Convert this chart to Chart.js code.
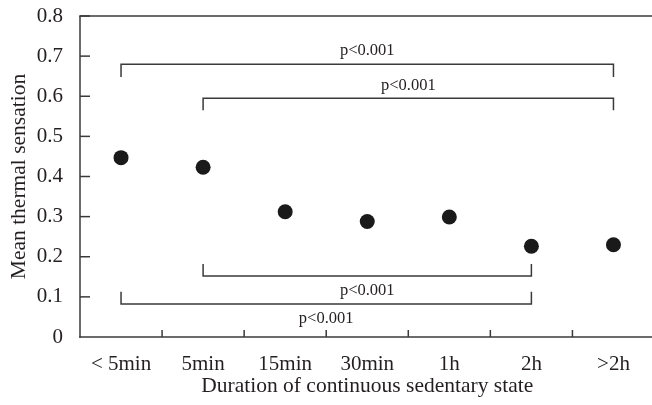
<!DOCTYPE html>
<html><head><meta charset="utf-8">
<script src="https://cdn.jsdelivr.net/npm/chart.js@4"></script>
<style>html,body{margin:0;padding:0;background:#fff;overflow:hidden}
#wrap{width:662px;height:405px;position:relative}</style>
</head><body><div id="wrap"><canvas id="c"></canvas></div>
<script>
// ---- data ----
const categories = ['< 5min', '5min', '15min', '30min', '1h', '2h', '>2h'];
const meanThermalSensation = [0.447, 0.423, 0.312, 0.288, 0.299, 0.226, 0.230];
const yTickValues = [0, 0.1, 0.2, 0.3, 0.4, 0.5, 0.6, 0.7, 0.8];
const bracketFrom = [0, 1, 1, 0];
const bracketTo = [6, 6, 5, 5];
const bracketLevel = [0.68, 0.595, 0.152, 0.082];
const bracketTickEnd = [0.648, 0.565, 0.182, 0.113];
const bracketLabels = ['p<0.001', 'p<0.001', 'p<0.001', 'p<0.001'];
const yTitle = 'Mean thermal sensation';
const xTitle = 'Duration of continuous sedentary state';

const SERIF = '"Liberation Serif", "Times New Roman", serif';
const LINE = '#3a3a3a';
const TEXT = '#231f20';

function seg(ctx, x1, y1, x2, y2) {
  ctx.beginPath(); ctx.moveTo(x1, y1); ctx.lineTo(x2, y2); ctx.stroke();
}

const decor = {
  id: 'decor',
  beforeDatasetsDraw(chart) {
    const {ctx, chartArea: a, scales: {x, y}} = chart;
    ctx.save();
    ctx.strokeStyle = LINE;
    ctx.lineWidth = 1.5;
    ctx.font = '16.5px ' + SERIF;
    ctx.fillStyle = TEXT;
    ctx.textAlign = 'center';
    ctx.textBaseline = 'middle';
    for (let i = 0; i < bracketFrom.length; i++) {
      const x1 = x.getPixelForValue(bracketFrom[i]);
      const x2 = x.getPixelForValue(bracketTo[i]);
      const yl = y.getPixelForValue(bracketLevel[i]);
      const yt = y.getPixelForValue(bracketTickEnd[i]);
      ctx.beginPath();
      ctx.moveTo(x1, yt); ctx.lineTo(x1, yl); ctx.lineTo(x2, yl); ctx.lineTo(x2, yt);
      ctx.stroke();
      const below = bracketTickEnd[i] > bracketLevel[i];
      ctx.fillText(bracketLabels[i], (x1 + x2) / 2, yl + (below ? 14.5 : -13));
    }
    ctx.restore();
  },
  afterDraw(chart) {
    const {ctx, chartArea: a, scales: {x, y}} = chart;
    ctx.save();
    ctx.strokeStyle = LINE;
    ctx.lineWidth = 1.5;
    seg(ctx, a.left, a.top, a.left, a.bottom + 0.75);
    seg(ctx, a.left - 0.75, a.bottom, a.right, a.bottom);
    seg(ctx, a.left - 0.75, a.top, a.right, a.top);
    yTickValues.forEach(v => {
      if (v === 0) return;
      const py = y.getPixelForValue(v);
      seg(ctx, a.left, py, a.left + 10, py);
    });
    for (let i = 1; i <= categories.length; i++) {
      const px = i < categories.length
        ? (x.getPixelForValue(i - 1) + x.getPixelForValue(i)) / 2
        : a.right;
      seg(ctx, px, a.bottom, px, a.bottom - 7);
    }
    ctx.restore();
  }
};

new Chart(document.getElementById('c'), {
  type: 'line',
  data: {
    labels: categories,
    datasets: [{
      data: meanThermalSensation,
      showLine: false,
      pointRadius: 7.5,
      pointHoverRadius: 7.5,
      pointBackgroundColor: '#1a1a1a',
      pointBorderWidth: 0,
      borderColor: '#1a1a1a'
    }]
  },
  options: {
    responsive: true,
    maintainAspectRatio: false,
    animation: false,
    events: [],
    layout: {padding: {top: 16, right: 6, left: 0, bottom: 0}},
    plugins: {legend: {display: false}, tooltip: {enabled: false}},
    scales: {
      x: {
        type: 'category',
        offset: true,
        grid: {display: false, drawTicks: false},
        border: {display: false},
        ticks: {color: TEXT, font: {family: SERIF, size: 21}, padding: 15, maxRotation: 0, autoSkip: false},
        title: {display: true, text: xTitle, color: TEXT, font: {family: SERIF, size: 21.5, lineHeight: 1.2}, padding: {top: 0, bottom: 6}},
        afterFit(s) { s.height = 68; s.paddingLeft = 0; s.paddingRight = 0; }
      },
      y: {
        min: 0, max: 0.8,
        afterBuildTicks(s) { s.ticks = yTickValues.map(v => ({value: v})); },
        grid: {display: false, drawTicks: false},
        border: {display: false},
        ticks: {color: TEXT, font: {family: SERIF, size: 21}, padding: 17,
          callback: v => (v === 0 ? '0' : v.toFixed(1))},
        title: {display: true, text: yTitle, color: TEXT, font: {family: SERIF, size: 21.5, lineHeight: 1.2}, padding: {top: 6, bottom: 0}},
        afterFit(s) { s.width = 80; s.paddingTop = 0; s.paddingBottom = 0; }
      }
    }
  },
  plugins: [decor]
});
</script>
</body></html>
